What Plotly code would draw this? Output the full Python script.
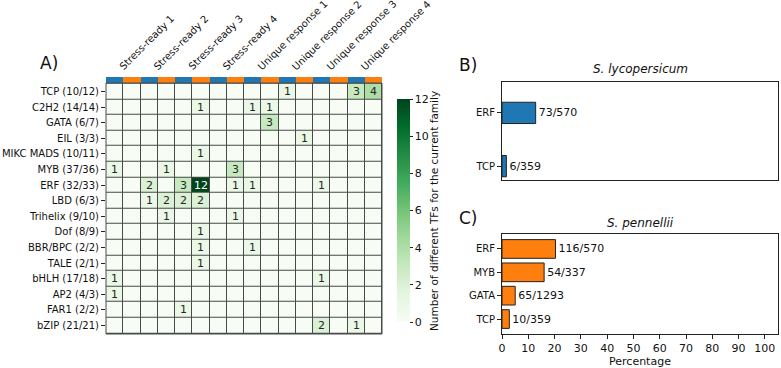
import plotly.graph_objects as go

W, H = 781, 368
def px(x): return x / W
def py(y): return 1 - y / H

FONT = "DejaVu Sans"

# ---------------- data ----------------
families = ["TCP (10/12)", "C2H2 (14/14)", "GATA (6/7)", "EIL (3/3)", "MIKC MADS (10/11)",
            "MYB (37/36)", "ERF (32/33)", "LBD (6/3)", "Trihelix (9/10)", "Dof (8/9)",
            "BBR/BPC (2/2)", "TALE (2/1)", "bHLH (17/18)", "AP2 (4/3)", "FAR1 (2/2)", "bZIP (21/21)"]
counts = [
    [0, 0, 0, 0, 0, 0, 0, 0, 0, 0, 1, 0, 0, 0, 3, 4],
    [0, 0, 0, 0, 0, 1, 0, 0, 1, 1, 0, 0, 0, 0, 0, 0],
    [0, 0, 0, 0, 0, 0, 0, 0, 0, 3, 0, 0, 0, 0, 0, 0],
    [0, 0, 0, 0, 0, 0, 0, 0, 0, 0, 0, 1, 0, 0, 0, 0],
    [0, 0, 0, 0, 0, 1, 0, 0, 0, 0, 0, 0, 0, 0, 0, 0],
    [1, 0, 0, 1, 0, 0, 0, 3, 0, 0, 0, 0, 0, 0, 0, 0],
    [0, 0, 2, 0, 3, 12, 0, 1, 1, 0, 0, 0, 1, 0, 0, 0],
    [0, 0, 1, 2, 2, 2, 0, 0, 0, 0, 0, 0, 0, 0, 0, 0],
    [0, 0, 0, 1, 0, 0, 0, 1, 0, 0, 0, 0, 0, 0, 0, 0],
    [0, 0, 0, 0, 0, 1, 0, 0, 0, 0, 0, 0, 0, 0, 0, 0],
    [0, 0, 0, 0, 0, 1, 0, 0, 1, 0, 0, 0, 0, 0, 0, 0],
    [0, 0, 0, 0, 0, 1, 0, 0, 0, 0, 0, 0, 0, 0, 0, 0],
    [1, 0, 0, 0, 0, 0, 0, 0, 0, 0, 0, 0, 1, 0, 0, 0],
    [1, 0, 0, 0, 0, 0, 0, 0, 0, 0, 0, 0, 0, 0, 0, 0],
    [0, 0, 0, 0, 1, 0, 0, 0, 0, 0, 0, 0, 0, 0, 0, 0],
    [0, 0, 0, 0, 0, 0, 0, 0, 0, 0, 0, 0, 2, 0, 1, 0],
]
group_labels = ["Stress-ready 1", "Stress-ready 2", "Stress-ready 3", "Stress-ready 4",
                "Unique response 1", "Unique response 2", "Unique response 3", "Unique response 4"]
species_strip = [0, 1] * 8   # 0 = S. lycopersicum (blue), 1 = S. pennellii (orange)

lyco_tfs = ["TCP", "ERF"]
lyco_n = [6, 73]
lyco_total = [359, 570]

penn_tfs = ["TCP", "GATA", "MYB", "ERF"]
penn_n = [10, 65, 54, 116]
penn_total = [359, 1293, 337, 570]

BLUE, ORANGE = "#1f77b4", "#ff7f0e"
greens = ["#f7fcf5", "#e5f5e0", "#c7e9c0", "#a1d99b", "#74c476",
          "#41ab5d", "#238b45", "#006d2c", "#00441b"]
greens_scale = [[i / 8, c] for i, c in enumerate(greens)]

ncol = len(counts[0])
cols = list(range(ncol))
FS = 10
GRID = "#4a4a4a"

fig = go.Figure()

# main heatmap
fig.add_trace(go.Heatmap(
    z=counts, x=cols, y=families, zmin=0, zmax=12, colorscale=greens_scale,
    xgap=1, ygap=1, hoverinfo="skip",
    colorbar=dict(x=px(387), xanchor="left", y=py(210.5), yanchor="middle",
                  len=243, lenmode="pixels", thickness=13, outlinewidth=0,
                  ticks="outside", ticklen=3, tickcolor="#222",
                  tickvals=list(range(0, 13, 2)),
                  tickfont=dict(family=FONT, size=FS + 1, color="#111")),
    xaxis="x", yaxis="y"))

# species strip
fig.add_trace(go.Heatmap(
    z=[species_strip], x=cols, y=[0], zmin=0, zmax=1, showscale=False,
    colorscale=[[0, BLUE], [0.5, BLUE], [0.5, ORANGE], [1, ORANGE]],
    hoverinfo="skip", xaxis="x2", yaxis="y2"))

# cell annotations
for r, fam in enumerate(families):
    for c, v in enumerate(counts[r]):
        if v:
            fig.add_annotation(x=c, y=fam, xref="x", yref="y", text=str(v), showarrow=False,
                               font=dict(family=FONT, size=FS + 1,
                                         color="white" if v > 6 else "#262626"))

# column group labels
for k, lab in enumerate(group_labels):
    fig.add_annotation(x=2 * k, y=py(75), xref="x", yref="paper", text=lab,
                       textangle=-45, xanchor="left", yanchor="bottom", showarrow=False,
                       font=dict(family=FONT, size=FS, color="#111"))

# bars
lyco_pct = [n / t * 100 for n, t in zip(lyco_n, lyco_total)]
penn_pct = [n / t * 100 for n, t in zip(penn_n, penn_total)]
fig.add_trace(go.Bar(
    x=lyco_pct, y=lyco_tfs, orientation="h", width=0.4,
    marker=dict(color=BLUE, line=dict(color="#222", width=1)),
    text=[f"{n}/{t}" for n, t in zip(lyco_n, lyco_total)], textposition="outside",
    textfont=dict(family=FONT, size=FS + 1, color="#111"), cliponaxis=False,
    hoverinfo="skip", xaxis="x3", yaxis="y3"))
fig.add_trace(go.Bar(
    x=penn_pct, y=penn_tfs, orientation="h", width=0.8,
    marker=dict(color=ORANGE, line=dict(color="#222", width=1)),
    text=[f"{n}/{t}" for n, t in zip(penn_n, penn_total)], textposition="outside",
    textfont=dict(family=FONT, size=FS + 1, color="#111"), cliponaxis=False,
    hoverinfo="skip", xaxis="x4", yaxis="y4"))

hm_x = [px(106), px(382)]
axis_common = dict(showgrid=False, zeroline=False, automargin=False)
box = dict(showline=True, mirror=True, linecolor="#222", linewidth=1)
tickf = dict(family=FONT, size=FS, color="#111")

fig.update_layout(
    width=W, height=H, margin=dict(l=0, r=0, t=0, b=0, autoexpand=False),
    paper_bgcolor="white", plot_bgcolor="white", showlegend=False,
    font=dict(family=FONT, size=FS, color="#111"),
    xaxis=dict(domain=hm_x, range=[-0.5, ncol - 0.5], showticklabels=False, ticks="",
               anchor="y", **axis_common),
    yaxis=dict(domain=[py(334), py(83)], autorange="reversed", anchor="x",
               ticks="outside", ticklen=4, tickcolor="#222", **axis_common,
               tickfont=tickf),
    xaxis2=dict(domain=hm_x, matches="x", visible=False, anchor="y2"),
    yaxis2=dict(domain=[py(83), py(77)], range=[-0.5, 0.5], visible=False, anchor="x2"),
    xaxis3=dict(domain=[px(502), px(778)], range=[0, 105], showticklabels=False, ticks="",
                anchor="y3", **axis_common, **box),
    yaxis3=dict(domain=[py(180), py(82)], range=[-0.26, 1.58], anchor="x3",
                categoryorder="array", categoryarray=lyco_tfs, tickfont=tickf,
                ticks="outside", ticklen=4, tickcolor="#222", **axis_common, **box),
    xaxis4=dict(domain=[px(502), px(778)], range=[0, 105], anchor="y4",
                tickvals=list(range(0, 101, 10)), ticks="outside", ticklen=4, tickcolor="#222",
                tickfont=dict(family=FONT, size=FS + 1, color="#111"),
                title=dict(text="Percentage", standoff=2, font=dict(family=FONT, size=FS + 1)),
                **axis_common, **box),
    yaxis4=dict(domain=[py(334), py(234)], range=[-0.64, 3.64], anchor="x4",
                categoryorder="array", categoryarray=penn_tfs, tickfont=tickf,
                ticks="outside", ticklen=4, tickcolor="#222", **axis_common, **box),
)

# dark background behind heatmap cells -> grid lines, plus thin outer border
fig.add_shape(type="rect", xref="x domain", yref="y domain", x0=0, x1=1, y0=0, y1=1,
              fillcolor=GRID, line=dict(width=0), layer="below")
fig.add_shape(type="rect", xref="x domain", yref="y domain", x0=0, x1=1, y0=0, y1=1,
              fillcolor="rgba(0,0,0,0)", line=dict(width=1, color=GRID), layer="above")

# panel letters / titles
for txt, x, y in [("A)", 49, 63), ("B)", 468, 65), ("C)", 468, 218)]:
    fig.add_annotation(x=px(x), y=py(y), xref="paper", yref="paper", text=txt, showarrow=False,
                       xanchor="center", yanchor="middle", font=dict(family=FONT, size=17, color="#111"))
for txt, y in [("<i>S. lycopersicum</i>", 69), ("<i>S. pennellii</i>", 223)]:
    fig.add_annotation(x=px(640), y=py(y), xref="paper", yref="paper", text=txt, showarrow=False,
                       xanchor="center", yanchor="middle", font=dict(family=FONT, size=12, color="#111"))
fig.add_annotation(x=px(434), y=py(211), xref="paper", yref="paper",
                   text="Number of different TFs for the current family", textangle=-90,
                   showarrow=False, xanchor="center", yanchor="middle",
                   font=dict(family=FONT, size=10.5, color="#111"))

fig.write_html("out.html", config={"displayModeBar": False},
               post_script="document.body.style.margin='0';document.body.style.overflow='hidden';")
